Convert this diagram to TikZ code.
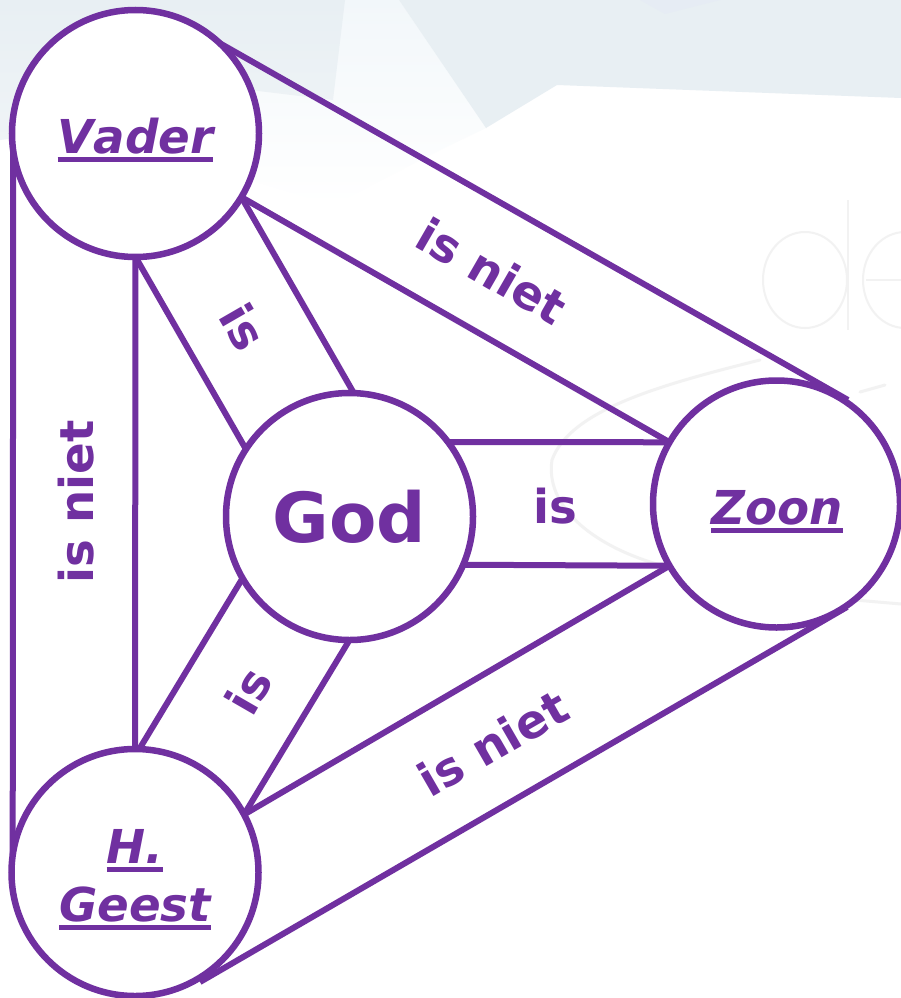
\documentclass[tikz,border=0pt]{standalone}
\usepackage{fontspec}
\setmainfont[Kerning=Off]{DejaVu Sans}
\definecolor{royal}{HTML}{7030A0}
\definecolor{paleA}{HTML}{E8EFF3}
\definecolor{paleB}{HTML}{F2F7FA}
\definecolor{paleC}{HTML}{E6ECF4}
\definecolor{ghost}{HTML}{F2F2F2}
\newcommand{\ulbox}[1]{\vtop{\hbox{#1}\kern 3pt\hrule height 5pt}}
\tikzset{
  x=1pt,y=-1pt,
  person/.style={circle,draw=royal,fill=white,line width=6.5pt,inner sep=0pt,outer sep=0pt,minimum size=247pt,text=royal,font=\fontsize{46.7}{50}\selectfont\bfseries\itshape},
  link/.style={draw=royal,line width=6pt},
  rel/.style={text=royal,inner sep=0pt,font=\fontsize{46.7}{50}\selectfont\bfseries},
  ghostline/.style={draw=ghost,line width=3pt,line cap=round},
}
\begin{document}
\begin{tikzpicture}
\useasboundingbox (0,0) rectangle (901,998);
\begin{scope}
\clip (0,0) rectangle (901,998);
% faint background
\fill[white] (0,0) rectangle (901,998);
\shade[top color=paleB,bottom color=white] (250,0) -- (399,0) -- (486,128) -- (440,150) -- (333,205) -- (250,180) -- cycle;
\shade[top color=paleA,bottom color=paleA!70!white] (0,0) -- (345,0) -- (333,100) -- (250,90) -- (120,125) -- (0,140) -- cycle;
\fill[paleA] (399,0) -- (901,0) -- (901,98) -- (557,85) -- (486,128) -- cycle;
\fill[paleC] (640,0) -- (720,0) -- (665,14) -- cycle;
\draw[ghost,line width=2pt] (805,280) ellipse [x radius=42,y radius=48];
\draw[ghost,line width=2pt] (848,200) -- (848,330);
\draw[ghost,line width=2pt] (866,280) -- (901,280);
\draw[ghost,line width=2pt] (905,280) ellipse [x radius=42,y radius=48];
\draw[ghostline] (760,360) .. controls (660,385) and (570,410) .. (552,460) .. controls (545,505) and (590,545) .. (660,565);
\draw[ghostline] (860,392) -- (885,385);
\draw[ghostline] (855,600) -- (901,604);
\end{scope}
% circles
\node[person,text height=50pt,text depth=10pt] (vader) at (135.5,133.5) {\ulbox{Vader}};
\node[person,font=\fontsize{69}{72}\selectfont\bfseries] (god) at (349.5,516.5) {God};
\node[person,text height=50pt,text depth=10pt] (zoon) at (776.5,504) {\hspace{1pt}\ulbox{Zoon}};
\node[person,text height=20pt,text depth=38pt] (geest) at (135,872.5) {\vtop{\hbox to 160pt{\hss\ulbox{H.}\hss}\kern 8pt\hbox to 160pt{\hss\ulbox{Geest}\hss}}};
% free ends
\coordinate (zoonUpperEnd) at (848,400);
\coordinate (zoonLowerEnd) at (847,607);
\coordinate (geestLowerEnd) at (200,982);
% connectors
\draw[link] (vader.188) -- (geest.172);
\draw[link] (vader.south) -- (geest.north);
\draw[link] (vader.south) -- (god.147);
\draw[link] (vader.-31) -- (god.88);
\draw[link] (vader.-31) -- (zoon.150);
\draw[link] (vader.47) -- (zoonUpperEnd);
\draw[link] (god.37) -- (zoon.150);
\draw[link] (god.-23) -- (zoon.210);
\draw[link] (god.210) -- (geest.88);
\draw[link] (god.south) -- (geest.28);
\draw[link] (zoon.210) -- (geest.28);
\draw[link] (zoonLowerEnd) -- (geestLowerEnd);
% labels
\node[rel,rotate=-30] (l1) at (492,271) {is niet};
\node[rel,rotate=30] (l2) at (493,743) {is niet};
\node[rel,rotate=90] (l3) at (76,502) {is niet};
\node[rel,rotate=-60] (l4) at (244,327) {is};
\node[rel,rotate=60] (l5) at (248,691) {is};
\node[rel] (l6) at (555,506) {is};
\end{tikzpicture}
\end{document}
